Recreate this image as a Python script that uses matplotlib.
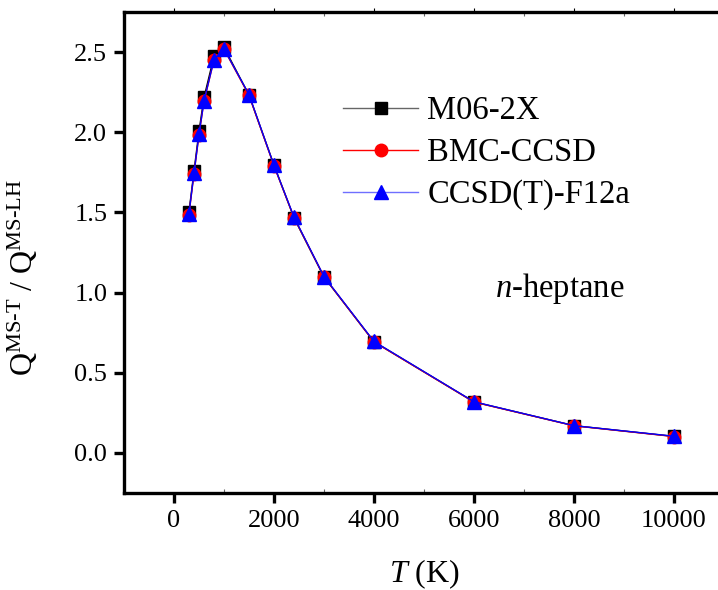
import numpy as np
import matplotlib
matplotlib.use('Agg')
import matplotlib.pyplot as plt
from matplotlib.ticker import MultipleLocator

plt.rcParams['font.family'] = ['Liberation Serif', 'DejaVu Serif']
plt.rcParams['mathtext.fontset'] = 'custom'
plt.rcParams['mathtext.rm'] = 'Liberation Serif'
plt.rcParams['mathtext.it'] = 'Liberation Serif:italic'

# Temperaturas (K)
temp = [298, 400, 500, 600, 800, 1000, 1500, 2000, 2400, 3000, 4000, 6000, 8000, 10000]

# Razao Q^MS-T / Q^MS-LH para cada metodo
m06_2x = [1.50, 1.757, 2.007, 2.217, 2.474, 2.530, 2.232, 1.795, 1.466, 1.097, 0.693, 0.318, 0.170, 0.103]
bmc_ccsd = [1.485, 1.742, 1.985, 2.193, 2.450, 2.518, 2.230, 1.790, 1.468, 1.098, 0.692, 0.317, 0.169, 0.102]
ccsd_t_f12a = [1.488, 1.743, 1.986, 2.194, 2.453, 2.520, 2.235, 1.793, 1.471, 1.100, 0.695, 0.319, 0.170, 0.104]

rotulos = ['M06-2X', 'BMC-CCSD', 'CCSD(T)-F12a']

fig = plt.figure(figsize=(7.18, 5.90), dpi=100)
ax = fig.add_axes([124 / 718, 97 / 590, 600 / 718, 481 / 590])

ax.plot(temp, m06_2x, color='black', lw=1.0, marker='s', ms=8.5, label=rotulos[0])
ax.plot(temp, bmc_ccsd, color='red', lw=1.0, marker='o', ms=9, label=rotulos[1])
ax.plot(temp, ccsd_t_f12a, color='blue', lw=1.0, marker='^', ms=10.5, label=rotulos[2])

ax.set_xlim(-1000, 11000)
ax.set_ylim(-0.25, 2.75)
ax.xaxis.set_major_locator(MultipleLocator(2000))
ax.xaxis.set_minor_locator(MultipleLocator(1000))
ax.set_yticks([0.0, 0.5, 1.0, 1.5, 2.0, 2.5])
ax.set_yticklabels(['0.0', '0.5', '1.0', '1.5', '2.0', '2.5'])

for lado in ['left', 'bottom', 'top', 'right']:
    ax.spines[lado].set_linewidth(2.4)

ax.tick_params(axis='both', which='major', direction='out', length=7, width=2.4,
               labelsize=19, pad=5)
ax.tick_params(axis='x', which='minor', direction='in', length=3, width=0.8, color='0.4')
# eixo superior so com marcas pequenas
ax.xaxis.set_tick_params(which='both', top=True)
for t in ax.xaxis.get_major_ticks() + ax.xaxis.get_minor_ticks():
    t.tick2line.set_markersize(3)
    t.tick2line.set_markeredgewidth(0.8)
    t.tick2line.set_color('0.4')

ax.set_xlabel(r'$\mathit{T}$ (K)', fontsize=23)
ax.xaxis.set_label_coords(0.5, -0.135)
ax.set_ylabel(r'Q$^{\mathrm{MS\text{-}T}}$ / Q$^{\mathrm{MS\text{-}LH}}$', fontsize=23)
ax.yaxis.set_label_coords(-0.14, 0.447)

ax.text(0.618, 0.4075, r'$\mathit{n}$-heptane', transform=ax.transAxes,
        fontsize=23.5, ha='left', va='baseline')

leg = ax.legend(loc='upper left', bbox_to_anchor=(0.365, 0.826), frameon=False,
                fontsize=23.5, handlelength=2.3, handletextpad=0.28,
                labelspacing=0.35, borderaxespad=0, borderpad=0)
leg.get_lines()[0].set_color('0.4')
leg.get_lines()[0].set_markerfacecolor('black')
leg.get_lines()[0].set_markeredgecolor('black')
leg.get_lines()[2].set_color('#6f6fff')
leg.get_lines()[2].set_markerfacecolor('blue')
leg.get_lines()[2].set_markeredgecolor('blue')

fig.savefig('out.png', dpi=100)
